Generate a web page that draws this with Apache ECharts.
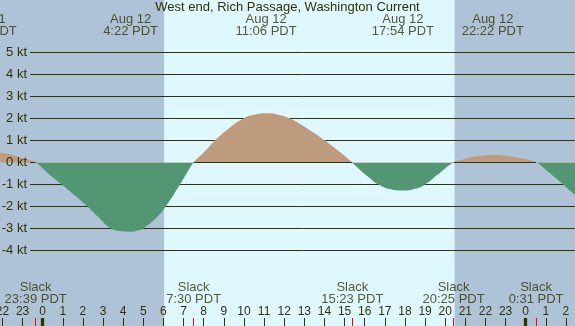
<!DOCTYPE html>
<html><head><meta charset="utf-8">
<script src="https://cdn.jsdelivr.net/npm/echarts@6/dist/echarts.min.js"></script>
<style>html,body{margin:0;padding:0;background:#dff8ff;overflow:hidden}#c{width:575px;height:326px}</style>
</head><body><div id="c"></div>
<script>
// ---- data ----
const flowHours = [-3.0, -2.83, -2.12, -1.6, -1.13, -0.7, -0.35,
  0.3, 0.94, 1.6, 2.22, 2.8, 3.34, 3.85, 4.37, 4.75, 5.0, 5.55, 6.11, 6.82, 7.15, 7.5,
  8.0, 8.56, 9.25, 9.97, 10.5, 11.1, 11.7, 12.29, 13.2, 14.03, 14.7, 15.38,
  15.77, 16.2, 16.68, 17.3, 17.9, 18.5, 19.0, 19.7, 20.42,
  21.0, 21.6, 22.37, 23.0, 23.7, 24.52,
  25.0, 25.5, 25.86, 26.2, 26.5, 27.0];
const flowKnots = [0.49, 0.5, 0.45, 0.36, 0.24, 0.12, 0,
  -0.52, -1.0, -1.5, -2.0, -2.52, -2.97, -3.12, -3.15, -3.08, -3.0, -2.6, -2.0, -1.0, -0.5, 0,
  0.45, 1.0, 1.55, 2.0, 2.17, 2.24, 2.18, 2.0, 1.52, 1.0, 0.52, 0,
  -0.34, -0.67, -1.0, -1.22, -1.28, -1.2, -1.0, -0.5, 0,
  0.16, 0.28, 0.34, 0.31, 0.2, 0,
  -0.33, -0.72, -1.0, -1.28, -1.52, -1.95];
const levelLines = [-4, -3, -2, -1, 1, 2, 3, 4, 5];
const hourTicks = [-2,-1,0,1,2,3,4,5,6,7,8,9,10,11,12,13,14,15,16,17,18,19,20,21,22,23,24,25,26];
const midnightTicks = [0, 24];
const slackTimes = ['23:39', '7:30', '15:23', '20:25', '0:31'];
const slackDayOffset = [-1, 0, 0, 0, 1];
const extremeDates = ['Aug 11', 'Aug 12', 'Aug 12', 'Aug 12', 'Aug 12'];
const extremeTimes = ['21:10', '4:22', '11:06', '17:54', '22:22'];
const extremeDayOffset = [-1, 0, 0, 0, 0];
const sunriseTime = '6:02';
const sunsetTime = '20:28';
const titleText = 'West end, Rich Passage, Washington Current';

// ---- layout / style ----
const X_MIN = -2.122, X_MAX = 26.45, Y_MIN = -7.445, Y_MAX = 7.40;
const LINE_START = -0.631;
const TOP_LABEL_Y = 6.24, SLACK_LABEL_Y = -5.963;
const NIGHT = '#afc3d8', DAY = '#dff8ff', LINE = '#333300', TXT = '#333300';
const GREEN = '#529673', BROWN = '#bd9b7c';
const FONT = '"Liberation Sans", Arial, sans-serif';

function toHour(t, off) { const p = t.split(':'); return (+p[0]) + (+p[1]) / 60 + 24 * off; }
const slackHours = slackTimes.map((t, i) => toHour(t, slackDayOffset[i]));
const extremeHours = extremeTimes.map((t, i) => toHour(t, extremeDayOffset[i]));
const sunriseH = toHour(sunriseTime, 0), sunsetH = toHour(sunsetTime, 0);
const flowData = flowHours.map((h, i) => [h, flowKnots[i]]);

// zero-line segments only where the flow is positive
const bounds = [LINE_START].concat(slackHours.filter(h => h > LINE_START && h < X_MAX)).concat([X_MAX]);
const zeroSegs = [];
for (let i = 0; i < bounds.length - 1; i++) {
  const a = bounds[i], b = bounds[i + 1];
  const pos = flowHours.some((h, j) => h > a && h < b && flowKnots[j] > 0);
  if (pos || i === 0) zeroSegs.push([{ coord: [a, 0], name: i === 0 ? '0 kt' : '' }, { coord: [b, 0] }]);
}

const lineLabel = { show: true, position: 'start', distance: 3, formatter: '{b}', fontSize: 13, color: TXT, fontFamily: FONT };
const axisBase = { type: 'value', min: X_MIN, max: X_MAX, position: 'bottom', z: 5,
  splitLine: { show: false }, axisLine: { show: false, onZero: false } };

const chart = echarts.init(document.getElementById('c'), null, { renderer: 'canvas' });
chart.setOption({
  animation: false,
  backgroundColor: DAY,
  title: { text: titleText, left: 'center', top: 1, padding: 0,
    textStyle: { fontSize: 13, fontWeight: 'normal', color: TXT, fontFamily: FONT } },
  grid: { left: 0, right: 0, top: 0, bottom: 0, containLabel: false, outerBoundsMode: 'none' },
  xAxis: [
    Object.assign({}, axisBase, {
      axisTick: { show: true, inside: true, length: 8, customValues: hourTicks, lineStyle: { color: LINE, width: 1 } },
      axisLabel: { show: true, inside: true, margin: 8.5, customValues: hourTicks, fontSize: 12, color: TXT, fontFamily: FONT,
        formatter: v => String(((Math.round(v) % 24) + 24) % 24) }
    }),
    Object.assign({}, axisBase, {
      axisLabel: { show: false },
      axisTick: { show: true, inside: true, length: 8, customValues: midnightTicks, lineStyle: { color: LINE, width: 3.3 } }
    }),
    Object.assign({}, axisBase, {
      axisLabel: { show: false },
      axisTick: { show: true, inside: true, length: 8, customValues: slackHours, lineStyle: { color: '#ff0000', width: 1 } }
    })
  ],
  yAxis: { type: 'value', min: Y_MIN, max: Y_MAX, show: false },
  visualMap: { type: 'piecewise', show: false, seriesIndex: 1, dimension: 1,
    pieces: [{ gte: -100, lt: 0, color: GREEN }, { gte: 0, lte: 100, color: BROWN }] },
  series: [
    { // backgrounds + level lines
      type: 'line', z: 1, data: [[X_MIN, 0]], showSymbol: false, symbolSize: 0,
      lineStyle: { opacity: 0 }, silent: true,
      markArea: { silent: true, z: 0.5, itemStyle: { color: NIGHT, opacity: 1 },
        data: [[{ xAxis: X_MIN }, { xAxis: sunriseH }], [{ xAxis: sunsetH }, { xAxis: X_MAX }]] },
      markLine: { silent: true, z: 1, symbol: ['none', 'none'], animation: false,
        lineStyle: { type: 'solid', color: LINE, width: 1, opacity: 1 }, label: lineLabel,
        emphasis: { disabled: true },
        data: levelLines.map(k => [{ coord: [LINE_START, k], name: k + ' kt' }, { coord: [X_MAX, k] }]) }
    },
    { // current area
      type: 'line', z: 2, data: flowData, smooth: 0.5, showSymbol: false, silent: true,
      lineStyle: { width: 0, opacity: 0 }, areaStyle: { opacity: 1 }
    },
    { // zero line
      type: 'line', z: 3, data: [[X_MIN, 0]], showSymbol: false, symbolSize: 0,
      lineStyle: { opacity: 0 }, silent: true,
      markLine: { silent: true, z: 3, symbol: ['none', 'none'], animation: false,
        lineStyle: { type: 'solid', color: LINE, width: 1, opacity: 1 }, label: lineLabel,
        emphasis: { disabled: true }, data: zeroSegs }
    },
    { // extreme labels (top)
      type: 'scatter', z: 4, clip: false, silent: true, symbolSize: 0,
      data: extremeHours.map((h, i) => ({ value: [h, TOP_LABEL_Y],
        label: { formatter: extremeDates[i] + '\n' + extremeTimes[i] + ' PDT' } })),
      label: { show: true, position: 'inside', fontSize: 13, lineHeight: 12, color: TXT, fontFamily: FONT }
    },
    { // slack labels (bottom)
      type: 'scatter', z: 4, clip: false, silent: true, symbolSize: 0,
      data: slackHours.map((h, i) => ({ value: [h, SLACK_LABEL_Y],
        label: { formatter: 'Slack\n' + slackTimes[i] + ' PDT' } })),
      label: { show: true, position: 'inside', fontSize: 13, lineHeight: 12.5, color: TXT, fontFamily: FONT }
    }
  ]
});
</script></body></html>
